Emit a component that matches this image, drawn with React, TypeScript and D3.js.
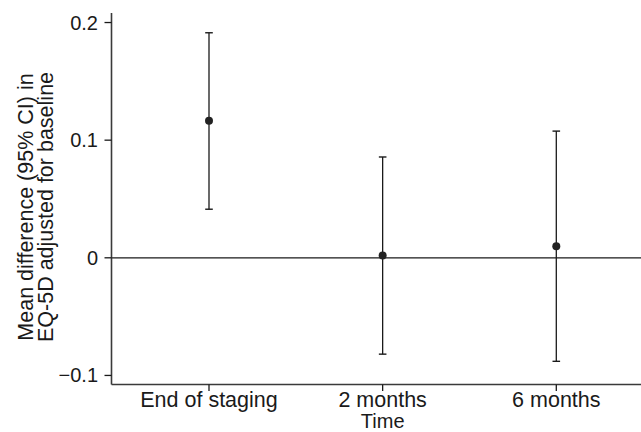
import React from "react";
import * as d3 from "d3";

// Time points and estimates of the mean difference with 95% CI
const timepoints = ["End of staging", "2 months", "6 months"];
const meanDiff = [0.1164, 0.002, 0.0098];
const ciLower = [0.0413, -0.0819, -0.088];
const ciUpper = [0.1913, 0.0857, 0.1077];
const yTicks = [-0.1, 0, 0.1, 0.2];
const yTickLabels = ["\u22120.1", "0", "0.1", "0.2"];

const WIDTH = 641;
const HEIGHT = 432;
const FONT = "'Liberation Sans', Arial, Helvetica, sans-serif";

export default function App() {
  const left = 111.5;
  const right = WIDTH;
  const top = 13;
  const bottom = 384.5;

  const x = d3.scalePoint<string>().domain(timepoints).range([209, 556.3]);
  const y = d3.scaleLinear().domain([-0.1077, 0.2081]).range([bottom, top]);

  const ink = "#1a1a1a";
  const axisInk = "#3a3a3a";

  return (
    <svg
      width={WIDTH}
      height={HEIGHT}
      style={{ position: "absolute", left: 0, top: 0, background: "#fff" }}
      fontFamily={FONT}
    >
      {/* zero reference line */}
      <line x1={left} x2={right} y1={y(0)} y2={y(0)} stroke={ink} strokeWidth={1.3} />

      {/* y axis */}
      <line x1={left} x2={left} y1={top} y2={bottom} stroke={axisInk} strokeWidth={1.6} />
      {yTicks.map((t, i) => (
        <g key={t}>
          <line x1={left - 7} x2={left} y1={y(t)} y2={y(t)} stroke={ink} strokeWidth={1.3} />
          <text
            x={left - 13.5}
            y={y(t)}
            textAnchor="end"
            dominantBaseline="central"
            fontSize={20}
            fill={ink}
          >
            {yTickLabels[i]}
          </text>
        </g>
      ))}

      {/* x axis */}
      <line x1={left} x2={right} y1={bottom} y2={bottom} stroke={axisInk} strokeWidth={1.6} />
      {timepoints.map((c) => (
        <g key={c}>
          <line x1={x(c)} x2={x(c)} y1={bottom} y2={bottom + 6.5} stroke={ink} strokeWidth={1.3} />
          <text x={x(c)} y={406.5} textAnchor="middle" fontSize={21.5} fill={ink}>
            {c}
          </text>
        </g>
      ))}
      <text x={x("2 months")} y={427.5} textAnchor="middle" fontSize={20} fill={ink}>
        Time
      </text>

      {/* y axis title */}
      <g transform="translate(0,207) rotate(-90)">
        <text x={0} y={32.5} textAnchor="middle" fontSize={21.5} fill={ink}>
          Mean difference (95% CI) in
        </text>
        <text x={0} y={52.5} textAnchor="middle" fontSize={21.5} fill={ink}>
          EQ-5D adjusted for baseline
        </text>
      </g>

      {/* error bars with point estimates */}
      {timepoints.map((c, i) => {
        const cx = x(c) as number;
        return (
          <g key={c}>
            <line x1={cx} x2={cx} y1={y(ciLower[i])} y2={y(ciUpper[i])} stroke={ink} strokeWidth={1.3} />
            <line x1={cx - 3.8} x2={cx + 3.8} y1={y(ciUpper[i])} y2={y(ciUpper[i])} stroke={ink} strokeWidth={1.4} />
            <line x1={cx - 3.8} x2={cx + 3.8} y1={y(ciLower[i])} y2={y(ciLower[i])} stroke={ink} strokeWidth={1.4} />
            <circle cx={cx} cy={y(meanDiff[i])} r={4} fill="#222" />
          </g>
        );
      })}
    </svg>
  );
}
